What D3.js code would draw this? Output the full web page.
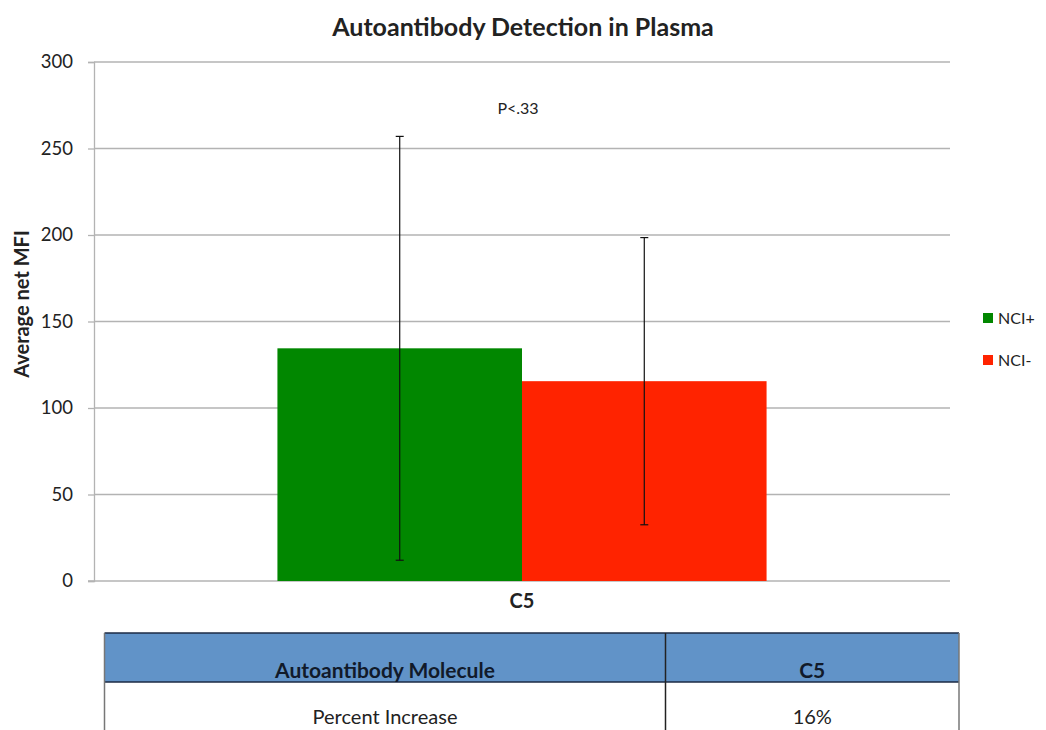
<!DOCTYPE html>
<html lang="en">
  <head>
    <meta charset="utf-8">
    <title>Autoantibody Detection in Plasma</title>
    <style media="screen">
      body { margin: 0; background: #fff; }
      text { font-family: Lato, "Open Sans", sans-serif; fill: #222; }
    </style>
  </head>
  <body>
    <div id="graph-div"></div>

    <script src="https://d3js.org/d3.v7.min.js"></script>
    <script type="text/javascript">

    // data
    var categories = ["C5"];
    var series = ["NCI+", "NCI-"];
    var colors = ["#018700", "#ff2300"];
    var means = [134.5, 115.5];
    var errors = [122.5, 83];
    var yTicks = [0, 50, 100, 150, 200, 250, 300];
    var pLabel = "P<.33";
    var tableHeader = ["Autoantibody Molecule", "C5"];
    var tableRow = ["Percent Increase", "16%"];

    var W = 1046, H = 730;
    var margin = {top: 62, left: 94, right: 96, bottom: 149};
    var width = W - margin.left - margin.right,
        height = H - margin.top - margin.bottom;

    var svg = d3.select("#graph-div")
      .append("svg")
        .attr("width", W)
        .attr("height", H);

    var g = svg.append("g")
        .attr("transform", "translate(" + margin.left + "," + margin.top + ")");

    var x0 = d3.scaleBand().domain(categories).range([0, width])
        .paddingInner(0).paddingOuter(0.375);
    var x1 = d3.scaleBand().domain(series).range([0, x0.bandwidth()]);
    var y = d3.scaleLinear().domain([0, 300]).range([height, 0]);

    // gridlines
    g.selectAll(".grid")
      .data(yTicks.filter(function(d) { return d > 0; }))
      .enter().append("line")
        .attr("x1", 0).attr("x2", width)
        .attr("y1", function(d) { return y(d); })
        .attr("y2", function(d) { return y(d); })
        .attr("stroke", "#b3b3b3").attr("stroke-width", 1.3);

    // y axis
    var yAxis = g.append("g")
        .call(d3.axisLeft(y).tickValues(yTicks).tickSize(6).tickPadding(15));
    yAxis.select(".domain").attr("stroke", "#b3b3b3").attr("stroke-width", 1.3);
    yAxis.selectAll(".tick line").attr("stroke", "#b3b3b3").attr("stroke-width", 1.3);
    yAxis.selectAll(".tick text")
        .style("font-size", "18.5px").attr("fill", "#222");

    // x baseline
    g.append("line")
        .attr("x1", -6).attr("x2", width)
        .attr("y1", height).attr("y2", height)
        .attr("stroke", "#b3b3b3").attr("stroke-width", 1.3);

    // bars
    var grp = g.selectAll(".cat")
      .data(categories)
      .enter().append("g")
        .attr("transform", function(d) { return "translate(" + x0(d) + ",0)"; });

    grp.selectAll("rect")
      .data(series.map(function(s, i) { return {s: s, v: means[i], e: errors[i], c: colors[i]}; }))
      .enter().append("rect")
        .attr("x", function(d) { return x1(d.s); })
        .attr("y", function(d) { return y(d.v); })
        .attr("width", x1.bandwidth())
        .attr("height", function(d) { return height - y(d.v); })
        .attr("fill", function(d) { return d.c; });

    // error bars
    var eb = grp.selectAll(".err")
      .data(series.map(function(s, i) { return {s: s, v: means[i], e: errors[i]}; }))
      .enter().append("g")
        .attr("transform", function(d) { return "translate(" + (x1(d.s) + x1.bandwidth() / 2) + ",0)"; });
    eb.append("line")
        .attr("y1", function(d) { return y(d.v + d.e); })
        .attr("y2", function(d) { return y(d.v - d.e); })
        .attr("stroke", "#111").attr("stroke-width", 1.2);
    eb.selectAll(".cap")
      .data(function(d) { return [d.v + d.e, d.v - d.e]; })
      .enter().append("line")
        .attr("x1", -4).attr("x2", 4)
        .attr("y1", function(d) { return y(d); })
        .attr("y2", function(d) { return y(d); })
        .attr("stroke", "#111").attr("stroke-width", 1.2);

    // category label
    g.append("text")
        .attr("x", x0("C5") + x0.bandwidth() / 2)
        .attr("y", height + 27)
        .attr("text-anchor", "middle")
        .style("font-size", "20px").style("font-weight", "bold")
        .text(categories[0]);

    // p value
    g.append("text")
        .attr("x", x0("C5") + x0.bandwidth() / 2 - 4)
        .attr("y", y(270))
        .attr("text-anchor", "middle")
        .style("font-size", "16px")
        .text(pLabel);

    // title
    svg.append("text")
        .attr("x", 523).attr("y", 36)
        .attr("text-anchor", "middle")
        .style("font-size", "25px").style("font-weight", "bold")
        .text("Autoantibody Detection in Plasma");

    // y label
    svg.append("text")
        .attr("transform", "translate(29,304) rotate(-90)")
        .attr("text-anchor", "middle")
        .style("font-size", "20px").style("font-weight", "bold")
        .text("Average net MFI");

    // legend
    var leg = svg.selectAll(".leg")
      .data(series)
      .enter().append("g")
        .attr("transform", function(d, i) { return "translate(983," + (313 + i * 42) + ")"; });
    leg.append("rect")
        .attr("width", 10).attr("height", 10)
        .attr("fill", function(d, i) { return colors[i]; });
    leg.append("text")
        .attr("x", 15).attr("y", 11)
        .style("font-size", "16px")
        .text(function(d) { return d; });

    // table below chart
    var tx = d3.scaleLinear().domain([0, 1]).range([104.5, 959]);
    var split = 665.5;
    var tTop = 633, tHead = 682;
    var tb = svg.append("g");
    tb.append("rect")
        .attr("x", tx(0)).attr("y", tTop)
        .attr("width", tx(1) - tx(0)).attr("height", tHead - tTop)
        .attr("fill", "#6193c8");
    tb.append("line").attr("x1", tx(0)).attr("x2", tx(1)).attr("y1", tTop).attr("y2", tTop)
        .attr("stroke", "#1b2a44").attr("stroke-width", 1.5);
    tb.append("line").attr("x1", tx(0)).attr("x2", tx(1)).attr("y1", tHead).attr("y2", tHead)
        .attr("stroke", "#1b2a44").attr("stroke-width", 1.5);
    [tx(0), split, tx(1)].forEach(function(xx, i) {
      tb.append("line").attr("x1", xx).attr("x2", xx).attr("y1", tTop).attr("y2", H)
          .attr("stroke", i === 1 ? "#222" : "#777").attr("stroke-width", 1.5);
    });
    var cx = [(tx(0) + split) / 2, (split + tx(1)) / 2];
    tb.selectAll(".th")
      .data(tableHeader)
      .enter().append("text")
        .attr("x", function(d, i) { return cx[i]; })
        .attr("y", 678)
        .attr("text-anchor", "middle")
        .style("font-size", "21px").style("font-weight", "bold")
        .style("fill", "#111a2a")
        .text(function(d) { return d; });
    tb.selectAll(".td")
      .data(tableRow)
      .enter().append("text")
        .attr("x", function(d, i) { return cx[i]; })
        .attr("y", 724)
        .attr("text-anchor", "middle")
        .style("font-size", "20px")
        .text(function(d) { return d; });

    </script>
  </body>
</html>
